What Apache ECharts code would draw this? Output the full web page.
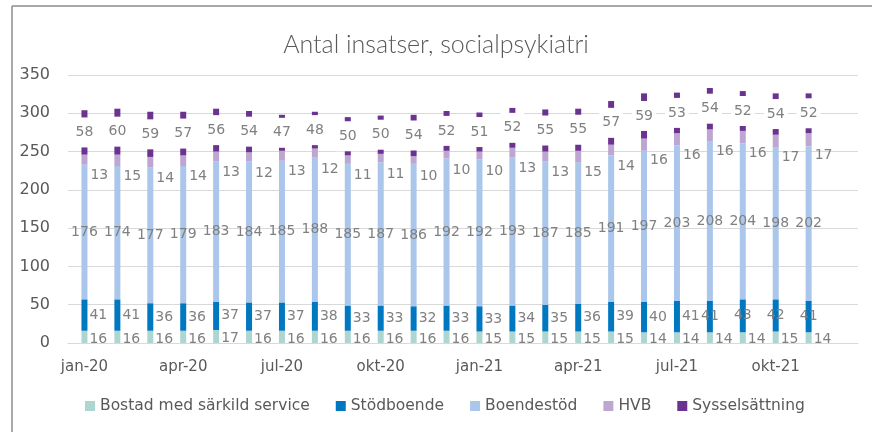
<!DOCTYPE html>
<html>
<head>
<meta charset="utf-8">
<script src="https://cdn.jsdelivr.net/npm/echarts@6/dist/echarts.min.js"></script>
<style>html,body{margin:0;padding:0;background:#fff}#c{width:872px;height:432px}</style>
</head>
<body>
<div id="c"></div>
<script>
const categories = ['jan-20','feb-20','mar-20','apr-20','maj-20','jun-20','jul-20','aug-20','sep-20','okt-20','nov-20','dec-20',
  'jan-21','feb-21','mar-21','apr-21','maj-21','jun-21','jul-21','aug-21','sep-21','okt-21','nov-21','dec-21'];
const bostad = [16,16,16,16,17,16,16,16,16,16,16,16,15,15,15,15,15,14,14,14,14,15,14,null];
const stodboende = [41,41,36,36,37,37,37,38,33,33,32,33,33,34,35,36,39,40,41,41,43,42,41,null];
const boendestod = [176,174,177,179,183,184,185,188,185,187,186,192,192,193,187,185,191,197,203,208,204,198,202,null];
const hvb = [13,15,14,14,13,12,13,12,11,11,10,10,10,13,13,15,14,16,16,16,16,17,17,null];
const syssel = [58,60,59,57,56,54,47,48,50,50,54,52,51,52,55,55,57,59,53,54,52,54,52,null];
const yTicks = [0,50,100,150,200,250,300,350];

const FONT = 'DejaVu Sans';
const lblColor = '#808080';
const lbl = {fontFamily: FONT, fontSize: 14, color: lblColor};
const bw = 6;

function stodData() {
  return stodboende.map((v, i) => i >= 19 ? {value: v, label: {position: 'inside'}} : v);
}

const chart = echarts.init(document.getElementById('c'), null, {renderer: 'canvas'});
chart.setOption({
  animation: false,
  backgroundColor: '#fff',
  title: {
    text: 'Antal insatser, socialpsykiatri',
    left: 'center', top: 27,
    textStyle: {fontFamily: 'Lato', fontSize: 25, fontWeight: 300, color: '#595959'}
  },
  grid: {left: 68, right: 14, top: 75, bottom: 89, containLabel: false},
  legend: {
    bottom: 13, left: 80,
    icon: 'rect', itemWidth: 10, itemHeight: 10, itemGap: 26,
    textStyle: {fontFamily: FONT, fontSize: 15.5, color: '#595959'},
    data: ['Bostad med särkild service','Stödboende','Boendestöd','HVB','Sysselsättning']
  },
  xAxis: {
    type: 'category', data: categories,
    axisTick: {show: false},
    axisLine: {lineStyle: {color: '#d9d9d9'}},
    axisLabel: {interval: 2, fontFamily: FONT, fontSize: 15, color: '#595959', margin: 17}
  },
  yAxis: {
    type: 'value', min: 0, max: 350, interval: 50,
    axisLabel: {fontFamily: FONT, fontSize: 16, color: '#595959', margin: 18,
      formatter: v => yTicks.includes(v) ? String(v) : ''},
    splitLine: {lineStyle: {color: '#d9d9d9', width: 1}},
    axisLine: {show: false}, axisTick: {show: false}
  },
  series: [
    {name: 'Bostad med särkild service', type: 'bar', stack: 't', barWidth: bw, data: bostad,
     itemStyle: {color: '#aed6d0'},
     label: {show: true, position: 'right', distance: 2, offset: [0, 2], ...lbl}},
    {name: 'Stödboende', type: 'bar', stack: 't', barWidth: bw, data: stodData(),
     itemStyle: {color: '#0078c1'},
     label: {show: true, position: 'right', distance: 2, ...lbl}},
    {name: 'Boendestöd', type: 'bar', stack: 't', barWidth: bw, data: boendestod,
     itemStyle: {color: '#aac6ea'},
     label: {show: true, position: 'inside', ...lbl}},
    {name: 'HVB', type: 'bar', stack: 't', barWidth: bw, data: hvb,
     itemStyle: {color: '#bea6d2'},
     label: {show: true, position: 'right', distance: 3, offset: [0, 16], ...lbl}},
    {name: 'Sysselsättning', type: 'bar', stack: 't', barWidth: bw, data: syssel,
     itemStyle: {color: '#6b338f'},
     label: {show: true, position: 'inside', ...lbl, backgroundColor: '#ffffff', padding: [8, 3]}}
  ],
  graphic: [
    {type: 'line', shape: {x1: 12, y1: 6, x2: 12, y2: 432}, style: {stroke: '#8c8c8c', lineWidth: 1.5}},
    {type: 'line', shape: {x1: 12, y1: 6, x2: 872, y2: 6}, style: {stroke: '#8c8c8c', lineWidth: 1.5}}
  ]
});
</script>
</body>
</html>
